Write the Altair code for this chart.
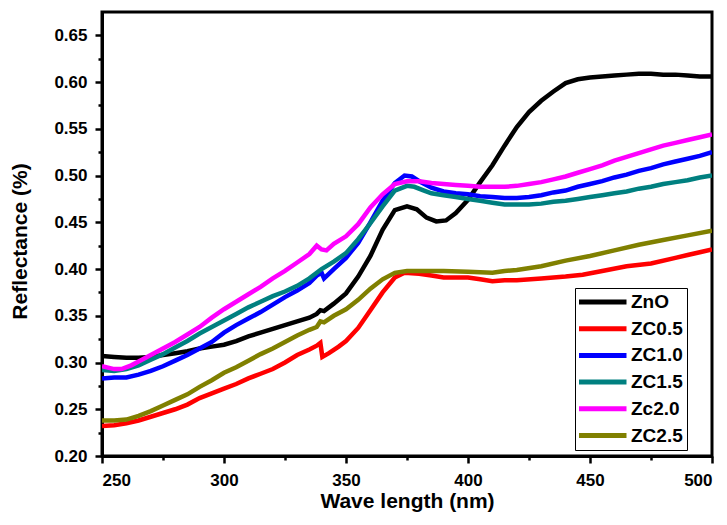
import altair as alt
import pandas as pd

names = ["ZnO", "ZC0.5", "ZC1.0", "ZC1.5", "Zc2.0", "ZC2.5"]
colors = ["#000000", "#FF0000", "#0000FF", "#008080", "#FF00FF", "#808000"]

zno_wl = [250, 255, 260, 265, 270, 275, 280, 285, 290, 295, 300, 305, 310, 315, 320, 325, 330, 335, 338, 339.5, 341,
          345, 350, 355, 360, 365, 370, 375, 379, 383, 387, 391, 395, 400, 405, 410, 415, 420, 425, 430, 435, 440,
          445, 450, 455, 460, 465, 470, 475, 480, 485, 490, 495, 500]
zno_r = [0.307, 0.306, 0.305, 0.305, 0.306, 0.308, 0.310, 0.312, 0.315, 0.317, 0.319, 0.323, 0.328, 0.332, 0.336,
         0.340, 0.344, 0.348, 0.352, 0.356, 0.355, 0.363, 0.374, 0.392, 0.414, 0.442, 0.463, 0.467, 0.464, 0.455,
         0.451, 0.452, 0.460, 0.474, 0.493, 0.511, 0.532, 0.552, 0.568, 0.580, 0.590, 0.599, 0.603, 0.605, 0.606,
         0.607, 0.608, 0.609, 0.609, 0.608, 0.608, 0.607, 0.606, 0.606]

zc05_wl = [250, 255, 260, 265, 270, 275, 280, 285, 290, 295, 300, 305, 310, 315, 320, 325, 330, 335, 338, 339.5,
           340.3, 343, 347, 350, 355, 360, 365, 370, 374, 380, 385, 390, 395, 400, 405, 410, 415, 420, 430, 440,
           447, 455, 465, 475, 485, 490, 495, 500]
zc05_r = [0.232, 0.233, 0.235, 0.238, 0.242, 0.246, 0.250, 0.255, 0.262, 0.267, 0.272, 0.277, 0.283, 0.288, 0.293,
          0.300, 0.308, 0.314, 0.318, 0.321, 0.306, 0.310, 0.317, 0.323, 0.337, 0.356, 0.375, 0.391, 0.396, 0.395,
          0.393, 0.391, 0.391, 0.391, 0.389, 0.387, 0.388, 0.388, 0.390, 0.392, 0.394, 0.398, 0.403, 0.406, 0.412,
          0.415, 0.418, 0.421]

zc10_wl = [250, 255, 260, 265, 270, 275, 280, 285, 290, 295, 300, 305, 310, 315, 320, 325, 330, 335, 338, 340, 341,
           345, 350, 355, 360, 365, 370, 374, 377, 380, 385, 390, 395, 400, 405, 410, 415, 420, 425, 430, 435, 440,
           445, 450, 455, 460, 465, 470, 475, 480, 485, 490, 495, 500]
zc10_r = [0.283, 0.284, 0.284, 0.287, 0.291, 0.296, 0.302, 0.308, 0.315, 0.322, 0.332, 0.340, 0.347, 0.354, 0.362,
          0.370, 0.377, 0.385, 0.393, 0.396, 0.390, 0.400, 0.412, 0.428, 0.450, 0.473, 0.492, 0.500, 0.499, 0.494,
          0.487, 0.483, 0.481, 0.480, 0.478, 0.477, 0.476, 0.476, 0.477, 0.479, 0.482, 0.484, 0.488, 0.491, 0.494,
          0.498, 0.501, 0.505, 0.508, 0.512, 0.515, 0.518, 0.521, 0.525]

zc15_wl = [250, 255, 260, 265, 270, 275, 280, 285, 290, 295, 300, 305, 310, 315, 320, 325, 330, 335, 338, 340, 345,
           350, 355, 360, 365, 370, 375, 378, 382, 385, 390, 395, 400, 405, 410, 415, 420, 425, 430, 435, 440, 445,
           450, 455, 460, 465, 470, 475, 480, 485, 490, 495, 500]
zc15_r = [0.292, 0.291, 0.293, 0.297, 0.303, 0.309, 0.316, 0.323, 0.331, 0.338, 0.345, 0.352, 0.359, 0.365, 0.371,
          0.376, 0.382, 0.390, 0.396, 0.400, 0.408, 0.417, 0.432, 0.449, 0.467, 0.484, 0.489, 0.488, 0.484, 0.481,
          0.479, 0.477, 0.475, 0.473, 0.471, 0.469, 0.469, 0.469, 0.470, 0.472, 0.473, 0.475, 0.477, 0.479, 0.481,
          0.483, 0.486, 0.488, 0.491, 0.493, 0.495, 0.498, 0.500]

zc20_wl = [250, 255, 258, 262, 265, 270, 275, 280, 285, 290, 295, 300, 305, 310, 315, 320, 325, 330, 335, 338, 340,
           342, 345, 350, 355, 360, 365, 370, 375, 380, 385, 390, 395, 400, 405, 410, 415, 420, 425, 430, 435, 440,
           445, 450, 455, 460, 465, 470, 475, 480, 485, 490, 495, 500]
zc20_r = [0.296, 0.293, 0.293, 0.297, 0.301, 0.308, 0.315, 0.322, 0.330, 0.338, 0.348, 0.357, 0.365, 0.373, 0.381,
          0.390, 0.398, 0.407, 0.416, 0.425, 0.421, 0.420, 0.427, 0.435, 0.448, 0.466, 0.480, 0.491, 0.494, 0.494,
          0.492, 0.491, 0.490, 0.489, 0.488, 0.488, 0.488, 0.489, 0.491, 0.493, 0.496, 0.499, 0.503, 0.507, 0.511,
          0.516, 0.520, 0.524, 0.528, 0.532, 0.535, 0.538, 0.541, 0.544]

zc25_wl = [250, 255, 260, 265, 270, 275, 280, 285, 290, 295, 300, 305, 310, 315, 320, 325, 330, 335, 338, 339.5,
           341, 345, 350, 355, 360, 365, 370, 375, 380, 390, 400, 410, 415, 420, 430, 440, 450, 460, 470, 480, 490,
           500]
zc25_r = [0.238, 0.238, 0.239, 0.243, 0.248, 0.254, 0.260, 0.266, 0.274, 0.281, 0.289, 0.295, 0.302, 0.309, 0.315,
          0.322, 0.329, 0.335, 0.338, 0.344, 0.343, 0.350, 0.357, 0.367, 0.379, 0.389, 0.396, 0.398, 0.398, 0.398,
          0.397, 0.396, 0.398, 0.399, 0.403, 0.409, 0.414, 0.420, 0.426, 0.431, 0.436, 0.441]

x_major = [250, 300, 350, 400, 450, 500]
x_minor = [275, 325, 375, 425, 475]
y_major = [0.20, 0.25, 0.30, 0.35, 0.40, 0.45, 0.50, 0.55, 0.60, 0.65]
y_minor = [0.225, 0.275, 0.325, 0.375, 0.425, 0.475, 0.525, 0.575, 0.625]

series = [(zno_wl, zno_r), (zc05_wl, zc05_r), (zc10_wl, zc10_r), (zc15_wl, zc15_r), (zc20_wl, zc20_r),
          (zc25_wl, zc25_r)]
frames = []
for i, (name, (wl, r)) in enumerate(zip(names, series)):
    frames.append(pd.DataFrame({"wl": wl, "r": r, "series": name, "idx": i}))
df = pd.concat(frames, ignore_index=True)

FONT = "Liberation Sans"

xscale = alt.Scale(domain=[250, 500], nice=False, zero=False)
yscale = alt.Scale(domain=[0.20, 0.675], nice=False, zero=False)

common_axis = dict(domainColor="black", domainWidth=3, tickColor="black", tickWidth=2.5, grid=False)

lines = alt.Chart(df).mark_line(strokeWidth=4.5, clip=True).encode(
    x=alt.X("wl:Q", scale=xscale,
            axis=alt.Axis(values=x_major, format="d", orient="bottom", tickSize=7, labelPadding=9,
                          labelFont=FONT, labelFontSize=17, labelFontWeight="bold", labelColor="black",
                          title="Wave length (nm)", titleFont=FONT, titleFontSize=21, titleFontWeight="bold",
                          titleColor="black", titleBaseline="alphabetic", titleY=51, **common_axis)),
    y=alt.Y("r:Q", scale=yscale,
            axis=alt.Axis(values=y_major, format=".2f", orient="left", tickSize=7, labelPadding=8,
                          labelFont=FONT, labelFontSize=17, labelFontWeight="bold", labelColor="black",
                          title="Reflectance (%)", titleFont=FONT, titleFontSize=21, titleFontWeight="bold",
                          titleColor="black", titlePadding=23, titleY=229, **common_axis)),
    color=alt.Color("series:N", scale=alt.Scale(domain=names, range=colors),
                    legend=alt.Legend(title=None, orient="none", legendX=473, legendY=276,
                                      direction="vertical", columns=1,
                                      symbolType="stroke", symbolSize=2401, symbolStrokeWidth=5,
                                      clipHeight=20, rowPadding=6.7, padding=4, symbolOffset=-4,
                                      labelOffset=2, labelLimit=56, strokeColor="black", fillColor="white",
                                      labelFont=FONT, labelFontSize=19, labelFontWeight="bold",
                                      labelColor="black")),
    detail="idx:N",
)

minor = alt.Chart(df).mark_line(opacity=0).encode(
    x=alt.X("wl:Q", scale=xscale,
            axis=alt.Axis(values=x_minor, orient="bottom", labels=False, tickSize=4, title=None,
                          domain=False, tickColor="black", tickWidth=2.5, grid=False)),
    y=alt.Y("r:Q", scale=yscale,
            axis=alt.Axis(values=y_minor, orient="left", labels=False, tickSize=4, title=None,
                          domain=False, tickColor="black", tickWidth=2.5, grid=False)),
)

chart = alt.layer(lines, minor).resolve_axis(x="independent", y="independent").properties(
    width=610, height=444,
    padding={"left": 94, "top": 4, "right": 7, "bottom": 57},
    autosize=alt.AutoSizeParams(type="none"),
    background="white",
).configure_view(stroke="black", strokeWidth=3)

chart.save("out.html", embed_options={"renderer": "svg", "actions": False})
